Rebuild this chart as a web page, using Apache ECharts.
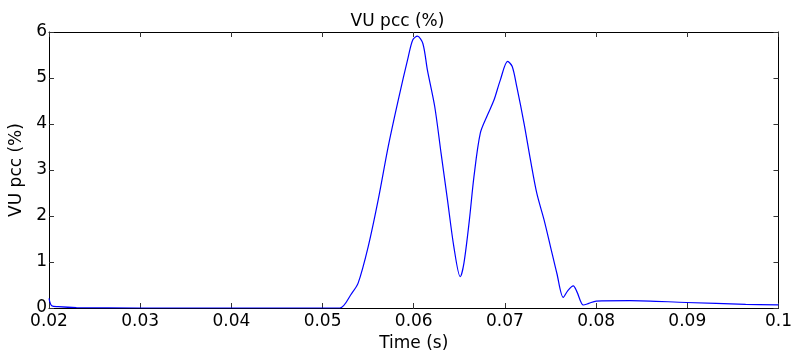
<!DOCTYPE html>
<html>
<head>
<meta charset="utf-8">
<script src="https://cdn.jsdelivr.net/npm/echarts@6/dist/echarts.min.js"></script>
<style>
  html, body { margin: 0; padding: 0; background: #fff; }
  #chart { width: 795px; height: 358px; }
</style>
</head>
<body>
<div id="chart"></div>
<script>
// Voltage unbalance at the PCC over time
const timeS = [
  0.0200, 0.0203, 0.0210, 0.0230, 0.0300, 0.0400, 0.0500, 0.0519,
  0.0532, 0.0539, 0.0550, 0.0561, 0.0572, 0.0583, 0.0594, 0.0599,
  0.0604, 0.0610, 0.0615, 0.0623, 0.0630, 0.0637, 0.0644, 0.0651,
  0.0655, 0.0661, 0.0666, 0.0673, 0.0681, 0.0688, 0.0695, 0.0703,
  0.0708, 0.0713, 0.0721, 0.0728, 0.0735, 0.0743, 0.0750, 0.0757,
  0.0764, 0.0769, 0.0775, 0.0779, 0.0786, 0.0792, 0.0800, 0.0837,
  0.0899, 0.0964, 0.1000
];
const vuPcc = [
  0.21, 0.05, 0.03, 0.01, 0.00, 0.00, 0.00, 0.00,
  0.32, 0.54, 1.33, 2.35, 3.51, 4.52, 5.46, 5.83,
  5.91, 5.75, 5.17, 4.38, 3.36, 2.35, 1.33, 0.68,
  0.97, 1.91, 2.85, 3.80, 4.20, 4.52, 4.96, 5.36,
  5.25, 4.81, 4.01, 3.22, 2.49, 1.91, 1.33, 0.75,
  0.23, 0.38, 0.48, 0.35, 0.065, 0.10, 0.15, 0.16,
  0.12, 0.08, 0.07
];
const xTicks = [0.02, 0.03, 0.04, 0.05, 0.06, 0.07, 0.08, 0.09, 0.1];
const yTicks = [0, 1, 2, 3, 4, 5, 6];

const FONT = 'DejaVu Sans, Liberation Sans, Arial, sans-serif';
const FS = 17;
const chart = echarts.init(document.getElementById('chart'));

const tickStyle = { show: true, inside: true, length: 5, lineStyle: { color: '#333', width: 1 } };
const lineStyle = { show: true, onZero: false, lineStyle: { color: '#000', width: 1 } };

chart.setOption({
  animation: false,
  title: {
    text: 'VU pcc (%)',
    left: 'center',
    top: 8,
    textStyle: { fontFamily: FONT, fontSize: FS, fontWeight: 'normal', color: '#000' }
  },
  grid: { left: 49, right: 12, top: 32, bottom: 50, containLabel: false },
  xAxis: [
    {
      type: 'value', position: 'bottom', min: 0.02, max: 0.1, interval: 0.01,
      name: 'Time (s)', nameLocation: 'middle', nameGap: 24,
      nameTextStyle: { fontFamily: FONT, fontSize: FS, color: '#000' },
      axisLine: lineStyle, axisTick: tickStyle, splitLine: { show: false },
      axisLabel: {
        fontFamily: FONT, fontSize: FS, color: '#000', margin: 5,
        formatter: v => { const t = xTicks.find(k => Math.abs(k - v) < 1e-9); return t === undefined ? '' : String(t); }
      }
    },
    {
      type: 'value', position: 'top', min: 0.02, max: 0.1, interval: 0.01,
      axisLine: lineStyle, axisTick: tickStyle, axisLabel: { show: false }, splitLine: { show: false }
    }
  ],
  yAxis: [
    {
      type: 'value', position: 'left', min: 0, max: 6, interval: 1,
      name: 'VU pcc (%)', nameLocation: 'middle', nameGap: 21,
      nameTextStyle: { fontFamily: FONT, fontSize: FS, color: '#000' },
      axisLine: lineStyle, axisTick: tickStyle, splitLine: { show: false },
      axisLabel: {
        fontFamily: FONT, fontSize: FS, color: '#000', margin: 2,
        formatter: v => yTicks.includes(v) ? String(v) : ''
      }
    },
    {
      type: 'value', position: 'right', min: 0, max: 6, interval: 1,
      axisLine: lineStyle, axisTick: tickStyle, axisLabel: { show: false }, splitLine: { show: false }
    }
  ],
  series: [{
    type: 'line',
    data: timeS.map((t, i) => [t, vuPcc[i]]),
    smooth: 0.3,
    showSymbol: false,
    lineStyle: { color: '#0000ff', width: 1.2 },
    itemStyle: { color: '#0000ff' }
  }]
});
</script>
</body>
</html>
